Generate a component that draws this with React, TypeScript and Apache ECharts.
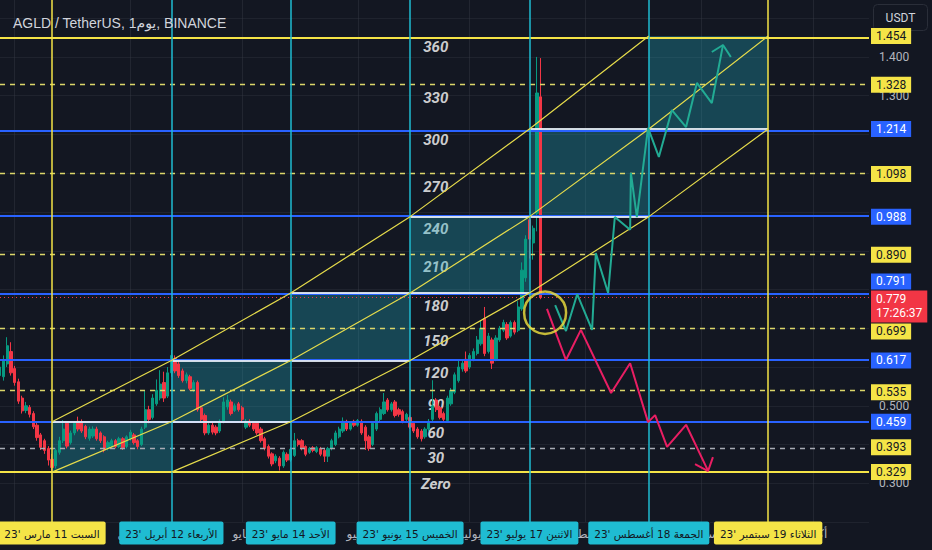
import React, { useEffect, useRef } from 'react';
import * as echarts from 'echarts';

// ---------- data (days counted from 11 Mar 2023) ----------
const TITLE = 'AGLD / TetherUS, 1يوم\u200E, BINANCE';
const FIRST_CANDLE_DAY = -14;
// [open, close, low, high]
const candles: number[][] = [
  [0.578, 0.600, 0.570, 0.612], [0.575, 0.618, 0.565, 0.630], [0.608, 0.655, 0.600, 0.677], [0.640, 0.585, 0.578, 0.664],
  [0.596, 0.560, 0.552, 0.603], [0.562, 0.512, 0.505, 0.570], [0.520, 0.487, 0.480, 0.526], [0.488, 0.500, 0.481, 0.510],
  [0.496, 0.478, 0.470, 0.502], [0.480, 0.446, 0.440, 0.486], [0.450, 0.418, 0.410, 0.456], [0.425, 0.393, 0.386, 0.430],
  [0.410, 0.385, 0.376, 0.415], [0.390, 0.360, 0.346, 0.396], [0.362, 0.341, 0.329, 0.376], [0.345, 0.385, 0.338, 0.390],
  [0.380, 0.410, 0.374, 0.420], [0.410, 0.440, 0.404, 0.463], [0.455, 0.396, 0.390, 0.460], [0.405, 0.430, 0.400, 0.436],
  [0.430, 0.455, 0.424, 0.460], [0.460, 0.440, 0.434, 0.472], [0.458, 0.435, 0.430, 0.465], [0.447, 0.420, 0.414, 0.451],
  [0.416, 0.440, 0.410, 0.446], [0.422, 0.440, 0.417, 0.447], [0.440, 0.415, 0.410, 0.446], [0.430, 0.410, 0.404, 0.434],
  [0.420, 0.386, 0.380, 0.424], [0.390, 0.405, 0.385, 0.410], [0.396, 0.410, 0.390, 0.415], [0.410, 0.395, 0.390, 0.414],
  [0.395, 0.415, 0.391, 0.420], [0.415, 0.392, 0.386, 0.419], [0.395, 0.420, 0.390, 0.424], [0.415, 0.432, 0.410, 0.438],
  [0.425, 0.405, 0.400, 0.430], [0.410, 0.395, 0.388, 0.414], [0.400, 0.440, 0.396, 0.446], [0.445, 0.490, 0.440, 0.540],
  [0.490, 0.465, 0.455, 0.500], [0.470, 0.520, 0.465, 0.530], [0.505, 0.540, 0.500, 0.568], [0.520, 0.556, 0.514, 0.592],
  [0.560, 0.520, 0.510, 0.588], [0.525, 0.585, 0.520, 0.600], [0.585, 0.630, 0.575, 0.644], [0.622, 0.590, 0.584, 0.630],
  [0.608, 0.578, 0.572, 0.615], [0.590, 0.565, 0.560, 0.596], [0.565, 0.580, 0.558, 0.586], [0.575, 0.545, 0.540, 0.580],
  [0.540, 0.560, 0.535, 0.566], [0.560, 0.490, 0.485, 0.565], [0.495, 0.465, 0.458, 0.500], [0.475, 0.430, 0.424, 0.480],
  [0.430, 0.450, 0.425, 0.455], [0.450, 0.432, 0.426, 0.456], [0.445, 0.430, 0.424, 0.450], [0.435, 0.460, 0.430, 0.465],
  [0.460, 0.510, 0.455, 0.522], [0.497, 0.515, 0.490, 0.528], [0.510, 0.480, 0.475, 0.516], [0.488, 0.500, 0.484, 0.506],
  [0.505, 0.490, 0.485, 0.510], [0.495, 0.465, 0.460, 0.500], [0.445, 0.460, 0.440, 0.466], [0.460, 0.450, 0.445, 0.465],
  [0.455, 0.440, 0.435, 0.460], [0.455, 0.430, 0.425, 0.460], [0.440, 0.410, 0.405, 0.445], [0.415, 0.390, 0.385, 0.420],
  [0.395, 0.370, 0.364, 0.400], [0.376, 0.350, 0.344, 0.380], [0.358, 0.370, 0.352, 0.375], [0.365, 0.345, 0.333, 0.370],
  [0.345, 0.380, 0.340, 0.385], [0.375, 0.360, 0.355, 0.380], [0.360, 0.388, 0.356, 0.393], [0.372, 0.410, 0.368, 0.430],
  [0.410, 0.400, 0.395, 0.415], [0.410, 0.390, 0.385, 0.414], [0.395, 0.375, 0.370, 0.398], [0.380, 0.390, 0.376, 0.394],
  [0.392, 0.385, 0.380, 0.396], [0.382, 0.392, 0.378, 0.396], [0.390, 0.375, 0.370, 0.394], [0.385, 0.370, 0.355, 0.390],
  [0.370, 0.390, 0.355, 0.394], [0.390, 0.410, 0.385, 0.415], [0.400, 0.430, 0.396, 0.436], [0.420, 0.440, 0.416, 0.446],
  [0.435, 0.460, 0.430, 0.470], [0.460, 0.440, 0.435, 0.464], [0.440, 0.455, 0.436, 0.460], [0.460, 0.450, 0.445, 0.464],
  [0.450, 0.462, 0.446, 0.466], [0.460, 0.430, 0.425, 0.465], [0.445, 0.410, 0.386, 0.450], [0.420, 0.390, 0.384, 0.425],
  [0.400, 0.455, 0.396, 0.460], [0.440, 0.480, 0.435, 0.485], [0.465, 0.490, 0.460, 0.496], [0.480, 0.510, 0.476, 0.533],
  [0.515, 0.490, 0.485, 0.520], [0.490, 0.505, 0.485, 0.510], [0.510, 0.475, 0.470, 0.515], [0.490, 0.478, 0.472, 0.495],
  [0.485, 0.460, 0.455, 0.490], [0.465, 0.478, 0.460, 0.482], [0.470, 0.445, 0.440, 0.475], [0.455, 0.435, 0.430, 0.460],
  [0.440, 0.420, 0.415, 0.445], [0.435, 0.415, 0.408, 0.440], [0.420, 0.440, 0.415, 0.445], [0.440, 0.460, 0.435, 0.466],
  [0.465, 0.500, 0.460, 0.566], [0.515, 0.490, 0.484, 0.520], [0.495, 0.470, 0.465, 0.500], [0.480, 0.465, 0.458, 0.485],
  [0.462, 0.520, 0.456, 0.526], [0.505, 0.540, 0.500, 0.546], [0.535, 0.580, 0.530, 0.586], [0.565, 0.600, 0.560, 0.618],
  [0.595, 0.610, 0.588, 0.618], [0.620, 0.590, 0.585, 0.640], [0.600, 0.630, 0.595, 0.636], [0.620, 0.640, 0.615, 0.648],
  [0.635, 0.670, 0.630, 0.680], [0.660, 0.700, 0.655, 0.720], [0.725, 0.635, 0.628, 0.755], [0.640, 0.680, 0.635, 0.688],
  [0.670, 0.610, 0.595, 0.676], [0.620, 0.675, 0.615, 0.682], [0.670, 0.700, 0.665, 0.706], [0.695, 0.715, 0.690, 0.722],
  [0.710, 0.675, 0.670, 0.716], [0.680, 0.715, 0.676, 0.720], [0.715, 0.690, 0.684, 0.720], [0.695, 0.755, 0.690, 0.770],
  [0.750, 0.850, 0.745, 0.870], [0.830, 0.930, 0.820, 0.940], [0.980, 0.930, 0.880, 0.990], [0.920, 0.958, 0.877, 0.965],
  [0.997, 1.307, 0.950, 1.400], [1.297, 0.779, 0.775, 1.397],
];

const solidYellowLevels = [1.454, 0.329];
const dashedYellowLevels = [1.328, 1.098, 0.890, 0.699, 0.535];
const blueLevels = [1.214, 0.988, 0.791, 0.617, 0.459];
const grayDashedLevels = [0.393];
const yellowTagLevels = [1.454, 1.328, 1.098, 0.890, 0.699, 0.535, 0.393, 0.329];
const lastPrice = 0.779;
const countdown = '17:26:37';

const channelDays = [0, 32, 64, 96, 128, 160, 192];
const channelLevels = [0.329, 0.459, 0.617, 0.791, 0.988, 1.214, 1.454];

const dateTags = [
  "السبت 11 مارس '23",
  "الأربعاء 12 أبريل '23",
  "الأحد 14 مايو '23",
  "الخميس 15 يونيو '23",
  "الاثنين 17 يوليو '23",
  "الجمعة 18 أغسطس '23",
  "الثلاثاء 19 سبتمبر '23",
];
const monthDays = [-10, 21, 51, 82, 112, 143, 174, 204];
const monthNames = ['مارس', 'أبريل', 'مايو', 'يونيو', 'يوليو', 'أغسطس', 'سبتمبر', 'أكتوبر'];
const priceTicks = [0.3, 0.5, 1.3, 1.4];

const angleLabels = ['360', '330', '300', '270', '240', '210', '180', '150', '120', '90', '60', '30', 'Zero'];
const angleLevels = [1.4256, 1.2941, 1.1857, 1.0644, 0.9561, 0.858, 0.7574, 0.6671, 0.5846, 0.502, 0.4298, 0.3653, 0.2982];
const angleLabelDay = 102.9;

const bullPath = [
  [134.9, 0.760], [137.8, 0.693], [140.8, 0.788], [144.8, 0.696], [145.8, 0.894], [149.1, 0.791],
  [150.9, 0.987], [155.0, 0.954], [155.2, 1.101], [156.8, 0.987], [159.8, 1.217], [162.7, 1.142],
  [166.2, 1.263], [170.0, 1.219], [172.9, 1.333], [176.9, 1.281], [179.9, 1.431],
];
const bullArrow = [[176.9, 1.4127], [179.9, 1.4308], [182.0, 1.3998]];
const bearPath = [
  [132.7, 0.750], [137.8, 0.618], [141.8, 0.696], [149.9, 0.533], [155.0, 0.610], [159.8, 0.458],
  [161.7, 0.476], [164.9, 0.394], [170.0, 0.451], [175.9, 0.332],
];
const bearArrow = [[172.4, 0.3498], [175.9, 0.3317], [177.2, 0.3678]];
const focusCircle = [132.2, 0.740];

// ---------- layout ----------
const W = 932;
const H = 550;
const GRID_TOP = -20.6;
const GRID_BOTTOM = 27.9;
const GRID_RIGHT = 63;
const Y_MIN = 0.2;
const Y_MAX = 1.6;
const X_MIN = -13.94;
const X_MAX = 219.04;
const FONT = 'Roboto, "Noto Sans", "DejaVu Sans", sans-serif';
const AR_FONT = '"DejaVu Sans", sans-serif';

const BG = '#131722';
const YELLOW = '#f5e447';
const CYAN = '#1fbcd2';
const BLUE = '#2962ff';
const UP = '#089981';
const DOWN = '#f23645';

type Tag = { value: number; label: string; kind: string; h: number; pos?: number };

function resolveTags(tags: Tag[]): Tag[] {
  const gh = H - GRID_TOP - GRID_BOTTOM;
  const toPx = (v: number) => GRID_TOP + ((Y_MAX - v) / (Y_MAX - Y_MIN)) * gh;
  const toVal = (px: number) => Y_MAX - ((px - GRID_TOP) / gh) * (Y_MAX - Y_MIN);
  const items = tags.map((t) => ({ ...t, y: toPx(t.value) })).sort((a, b) => a.y - b.y);
  for (let it = 0; it < 40; it++) {
    for (let i = 0; i < items.length - 1; i++) {
      const a = items[i];
      const b = items[i + 1];
      const need = (a.h + b.h) / 2 + 1;
      const gap = b.y - a.y;
      if (gap < need) {
        const d = (need - gap) / 2;
        a.y -= d;
        b.y += d;
      }
    }
  }
  return items.map((t) => ({ value: t.value, label: t.label, kind: t.kind, h: t.h, pos: toVal(t.y) }));
}

function nearest(list: Tag[], v: number): Tag {
  let best = list[0];
  for (const t of list) if (Math.abs((t.pos as number) - v) < Math.abs((best.pos as number) - v)) best = t;
  return best;
}

function nearestIndex(list: number[], v: number): number {
  let bi = 0;
  list.forEach((d, i) => { if (Math.abs(d - v) < Math.abs(list[bi] - v)) bi = i; });
  return bi;
}

function buildOption() {
  const tags: Tag[] = [
    ...yellowTagLevels.map((v) => ({ value: v, label: v.toFixed(3), kind: 'y', h: 16 })),
    ...blueLevels.map((v) => ({ value: v, label: v.toFixed(3), kind: 'b', h: 16 })),
    { value: lastPrice, label: lastPrice.toFixed(3) + '\n' + countdown, kind: 'r', h: 32 },
  ];
  const resolved = resolveTags(tags);
  const yTags = resolved.filter((t) => t.kind === 'y');
  const bTags = resolved.filter((t) => t.kind === 'b');
  const rTags = resolved.filter((t) => t.kind === 'r');

  const yBase: any = {
    type: 'value',
    position: 'right',
    min: Y_MIN,
    max: Y_MAX,
    interval: 0.1,
    axisLine: { show: false },
    axisTick: { show: false },
    splitLine: { show: false },
  };
  const tagLabel = (list: Tag[], bg: string, fg: string) => ({
    customValues: list.map((t) => t.pos),
    formatter: (v: number) => nearest(list, v).label,
    showMinLabel: true,
    showMaxLabel: true,
    backgroundColor: bg,
    color: fg,
    fontSize: 12,
    lineHeight: 14,
    padding: [1, 5, 1, 5],
    margin: 2,
    fontFamily: FONT,
  });

  const xBase: any = {
    type: 'value',
    position: 'bottom',
    min: X_MIN,
    max: X_MAX,
    axisLine: { show: false },
    axisTick: { show: false },
    splitLine: { show: false },
  };

  const tagRich = (bg: string) => ({
    backgroundColor: bg,
    color: '#131722',
    fontSize: 10.5,
    lineHeight: 14,
    padding: [7, 6, 5, 6],
    borderRadius: 2,
    fontFamily: AR_FONT,
  });

  // sentinel (empty) labels at both ends keep the real date tags away from the min/max label logic
  const tagValues = [X_MIN + 0.2, ...channelDays, X_MAX - 0.2];

  const hLine = (v: number, color: string, width: number, type: any) => ({
    yAxis: v,
    lineStyle: { color, width, type },
  });

  const rectAreas = channelDays.slice(0, -1).map((d, i) => [
    { xAxis: d, yAxis: channelLevels[i] },
    { xAxis: channelDays[i + 1], yAxis: channelLevels[i + 1] },
  ]);
  const rectEdges = channelLevels.slice(1, -1).map((lv, k) => {
    const i = k + 1;
    return [{ coord: [channelDays[i - 1], lv] }, { coord: [channelDays[i + 1], lv] }];
  });

  const upper = channelDays.slice(0, -1).map((d, i) => [d, channelLevels[i + 1]]);
  const middle = channelDays.map((d, i) => [d, channelLevels[i]]);
  const lower = channelDays.slice(1).map((d, i) => [d, channelLevels[i]]);

  const lineSeries = (data: number[][], color: string, width: number, z: number) => ({
    type: 'line',
    data,
    symbol: 'none',
    silent: true,
    z,
    lineStyle: { color, width },
  });

  const markerHost = (extra: any) => ({
    type: 'line',
    data: [],
    silent: true,
    ...extra,
  });

  return {
    animation: false,
    backgroundColor: BG,
    title: {
      text: TITLE,
      left: 8,
      top: 11,
      textStyle: { color: '#d1d4dc', fontSize: 14, fontWeight: 'normal', fontFamily: '"Liberation Sans", Arial, "DejaVu Sans", sans-serif' },
    },
    grid: {
      left: 0,
      right: GRID_RIGHT,
      top: GRID_TOP,
      bottom: GRID_BOTTOM,
      containLabel: false,
      outerBoundsMode: 'none',
    },
    xAxis: [
      {
        ...xBase,
        axisLabel: {
          customValues: monthDays,
          formatter: (v: number) => monthNames[nearestIndex(monthDays, v)],
          showMinLabel: true,
          showMaxLabel: true,
          color: '#b2b5be',
          fontSize: 12,
          margin: 6,
          fontFamily: AR_FONT,
        },
      },
      {
        ...xBase,
        z: 6,
        axisLabel: {
          customValues: tagValues,
          formatter: (v: number) => {
            if (v < channelDays[0] - 1 || v > channelDays[channelDays.length - 1] + 1) return '';
            const bi = nearestIndex(channelDays, v);
            const key = bi === 0 || bi === channelDays.length - 1 ? 'tagYellow' : 'tagCyan';
            return `{${key}|${dateTags[bi]}}`;
          },
          hideOverlap: false,
          margin: 4,
          rich: { tagYellow: tagRich(YELLOW), tagCyan: tagRich(CYAN) },
        },
      },
    ],
    yAxis: [
      {
        ...yBase,
        splitLine: { show: true, lineStyle: { color: 'rgba(54,58,69,0.35)', width: 1 } },
        axisLabel: {
          customValues: priceTicks,
          formatter: (v: number) => v.toFixed(3),
          color: '#b2b5be',
          fontSize: 12,
          margin: 10,
          fontFamily: FONT,
        },
      },
      { ...yBase, z: 6, axisLabel: tagLabel(yTags, YELLOW, '#131722') },
      { ...yBase, z: 6, axisLabel: tagLabel(bTags, BLUE, '#ffffff') },
      { ...yBase, z: 7, axisLabel: { ...tagLabel(rTags, DOWN, '#ffffff'), padding: [2, 5, 2, 5] } },
    ],
    series: [
      // angle texts (below the drawings)
      {
        type: 'scatter',
        z: 0,
        silent: true,
        symbolSize: 1,
        itemStyle: { color: 'transparent' },
        data: angleLabels.map((t, i) => ({ name: t, value: [angleLabelDay, angleLevels[i]] })),
        label: {
          show: true,
          position: 'inside',
          formatter: '{b}',
          color: '#ffffff',
          fontSize: 15,
          fontWeight: 'bold',
          fontStyle: 'italic',
          fontFamily: FONT,
        },
      },
      // month grid
      markerHost({
        markLine: {
          z: 0,
          silent: true,
          symbol: ['none', 'none'],
          label: { show: false },
          lineStyle: { color: 'rgba(54,58,69,0.45)', width: 1, type: 'solid' },
          data: monthDays.map((d) => ({ xAxis: d })),
        },
      }),
      // candles
      {
        type: 'candlestick',
        z: 2,
        silent: true,
        data: candles.map((c, i) => [FIRST_CANDLE_DAY + i, c[0], c[1], c[2], c[3]]),
        encode: { x: 0, y: [1, 2, 3, 4] },
        barWidth: 2.8,
        itemStyle: { color: UP, color0: DOWN, borderColor: UP, borderColor0: DOWN, borderWidth: 1 },
      },
      // rectangles
      markerHost({
        markArea: {
          silent: true,
          label: { show: false },
          itemStyle: { color: 'rgba(33,170,190,0.32)', borderWidth: 0 },
          data: rectAreas,
        },
      }),
      // horizontal levels
      markerHost({
        markLine: {
          silent: true,
          symbol: ['none', 'none'],
          label: { show: false },
          data: [
            ...dashedYellowLevels.map((v) => hLine(v, '#dcd66a', 1.3, [5, 5])),
            ...grayDashedLevels.map((v) => hLine(v, '#a8abb4', 1.3, [5, 5])),
            hLine(lastPrice, DOWN, 1, [1, 3]),
            ...blueLevels.map((v) => hLine(v, BLUE, 2, 'solid')),
            ...solidYellowLevels.map((v) => hLine(v, YELLOW, 2, 'solid')),
          ],
        },
      }),
      // rectangle edges
      markerHost({
        markLine: {
          silent: true,
          symbol: ['none', 'none'],
          label: { show: false },
          lineStyle: { color: 'rgba(232,238,246,0.9)', width: 2, type: 'solid' },
          data: rectEdges,
        },
      }),
      // vertical date lines
      markerHost({
        markLine: {
          silent: true,
          symbol: ['none', 'none'],
          label: { show: false },
          data: channelDays.map((d, i) => ({
            xAxis: d,
            lineStyle: { color: i === 0 || i === channelDays.length - 1 ? YELLOW : CYAN, width: 1.5, type: 'solid' },
          })),
        },
      }),
      // channel lines
      lineSeries(upper, '#e6dc4b', 1.2, 6),
      lineSeries(middle, '#e6dc4b', 1.2, 6),
      lineSeries(lower, '#e6dc4b', 1.2, 6),
      // projections
      lineSeries(bullPath, '#22ab94', 2, 7),
      lineSeries(bullArrow, '#22ab94', 2, 7),
      lineSeries(bearPath, '#e91e63', 2, 7),
      lineSeries(bearArrow, '#e91e63', 2, 7),
      // highlight circle
      {
        type: 'scatter',
        z: 8,
        silent: true,
        symbol: 'circle',
        symbolSize: 42,
        itemStyle: { color: 'transparent', borderColor: '#f3e33f', borderWidth: 2.5 },
        data: [focusCircle],
      },
    ],
    graphic: [
      {
        type: 'group',
        right: 4,
        top: 4,
        children: [
          {
            type: 'rect',
            shape: { x: 0, y: 0, width: 54, height: 26, r: 4 },
            style: { fill: BG, stroke: '#2a2e39', lineWidth: 1 },
          },
          {
            type: 'text',
            x: 27,
            y: 13,
            style: { text: 'USDT', fill: '#d1d4dc', fontSize: 12, fontFamily: FONT, align: 'center', verticalAlign: 'middle' },
          },
        ],
      },
    ],
  };
}

export default function App() {
  const ref = useRef<HTMLDivElement>(null);
  useEffect(() => {
    const chart = echarts.init(ref.current as HTMLDivElement, null, { renderer: 'svg', width: W, height: H });
    chart.setOption(buildOption() as any);
    return () => chart.dispose();
  }, []);
  return (
    <div
      ref={ref}
      style={{ position: 'fixed', left: 0, top: 0, width: W, height: H, background: BG }}
    />
  );
}
